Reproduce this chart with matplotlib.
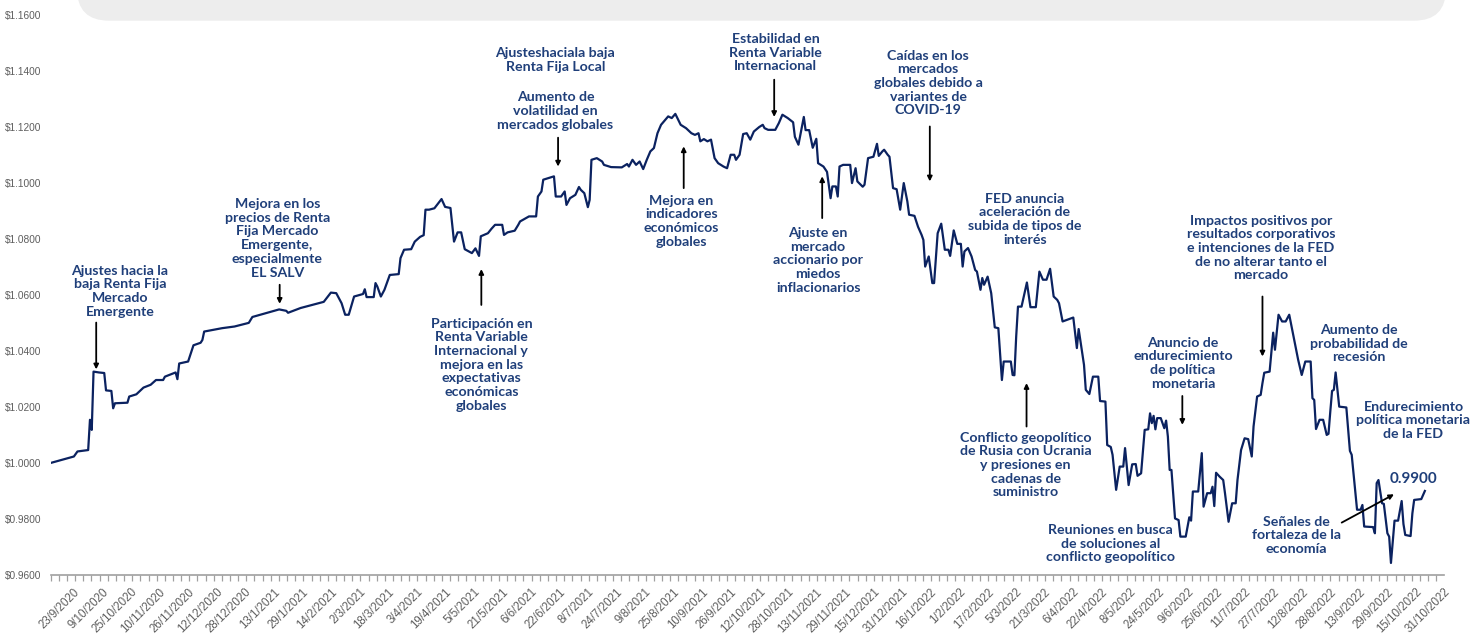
import matplotlib
matplotlib.use('Agg')
import matplotlib.pyplot as plt
import matplotlib.dates as mdates
from matplotlib.patches import FancyBboxPatch
import numpy as np
import pandas as pd

# Valor cuota: dias desde el inicio de la serie y valor
inicio = pd.Timestamp('2020-09-10')
fin_eje = pd.Timestamp('2022-10-31')

dias = [
    0, 13, 15, 21, 22, 23, 24, 27, 30, 31,
    34, 35, 36, 43, 44, 48, 52, 56, 59, 63,
    64, 70, 71, 72, 77, 80, 84, 85, 86, 96,
    103, 111, 113, 128, 132, 133, 140, 153, 157, 160,
    163, 165, 167, 170, 175, 176, 177, 181, 182, 183,
    185, 187, 190, 195, 196, 198, 202, 204, 207, 209,
    210, 212, 215, 219, 221, 224, 226, 228, 230, 232,
    236, 238, 240, 241, 245, 247, 249, 253, 254, 256,
    260, 262, 263, 268, 272, 273, 275, 276, 279, 282,
    283, 286, 288, 289, 291, 294, 296, 297, 299, 301,
    302, 303, 306, 309, 310, 314, 320, 323, 324, 326,
    328, 330, 332, 334, 336, 338, 340, 342, 346, 348,
    350, 353, 356, 359, 361, 363, 364, 366, 368, 370,
    372, 374, 377, 379, 381, 383, 384, 386, 388, 390,
    392, 394, 397, 399, 400, 402, 406, 408, 410, 413,
    416, 417, 419, 422, 423, 425, 427, 429, 430, 433,
    435, 437, 438, 440, 441, 442, 444, 448, 449, 451,
    452, 455, 456, 458, 461, 463, 464, 466, 467, 469,
    470, 472, 474, 476, 478, 480, 481, 484, 486, 488,
    489, 490, 492, 494, 495, 497, 499, 501, 503, 504,
    506, 508, 510, 511, 512, 514, 516, 518, 519, 521,
    522, 523, 525, 527, 529, 531, 533, 534, 538, 539,
    540, 541, 542, 544, 547, 549, 552, 554, 556, 558,
    560, 562, 564, 565, 567, 573, 575, 576, 579, 580,
    582, 584, 587, 588, 591, 592, 594, 595, 597, 599,
    601, 602, 604, 606, 608, 609, 611, 613, 615, 616,
    617, 618, 619, 620, 622, 624, 625, 626, 627, 628,
    630, 632, 633, 636, 638, 639, 640, 643, 645, 646,
    648, 650, 651, 652, 653, 655, 657, 658, 660, 662,
    664, 665, 667, 669, 671, 673, 674, 676, 678, 679,
    680, 683, 685, 686, 688, 690, 692, 694, 697, 699,
    701, 703, 706, 707, 708, 709, 711, 713, 715, 716,
    717, 718, 719, 720, 722, 726, 728, 729, 732, 734,
    735, 736, 741, 742, 743, 744, 746, 747, 749, 750,
    751, 753, 755, 757, 758, 759, 762, 763, 764, 768,
    770,
]

valores = [
    1.0000, 1.0023, 1.0041, 1.0046, 1.0154, 1.0118, 1.0326, 1.0323, 1.0321, 1.0259,
    1.0257, 1.0195, 1.0213, 1.0215, 1.0237, 1.0245, 1.0269, 1.0279, 1.0296, 1.0296,
    1.0308, 1.0323, 1.0299, 1.0355, 1.0362, 1.0420, 1.0429, 1.0439, 1.0469, 1.0481,
    1.0487, 1.0500, 1.0521, 1.0548, 1.0543, 1.0536, 1.0553, 1.0575, 1.0608, 1.0606,
    1.0570, 1.0529, 1.0529, 1.0594, 1.0603, 1.0620, 1.0592, 1.0592, 1.0642, 1.0630,
    1.0594, 1.0618, 1.0671, 1.0674, 1.0731, 1.0761, 1.0763, 1.0790, 1.0807, 1.0813,
    1.0904, 1.0904, 1.0909, 1.0942, 1.0914, 1.0910, 1.0790, 1.0823, 1.0823, 1.0763,
    1.0749, 1.0766, 1.0739, 1.0809, 1.0820, 1.0836, 1.0850, 1.0850, 1.0814, 1.0823,
    1.0829, 1.0850, 1.0862, 1.0880, 1.0880, 1.0951, 1.0969, 1.1011, 1.1017, 1.1023,
    1.0951, 1.0951, 1.0969, 1.0921, 1.0945, 1.0957, 1.0985, 1.0975, 1.0963, 1.0913,
    1.0939, 1.1082, 1.1088, 1.1076, 1.1064, 1.1056, 1.1055, 1.1067, 1.1058, 1.1082,
    1.1064, 1.1076, 1.1049, 1.1082, 1.1112, 1.1124, 1.1177, 1.1207, 1.1237, 1.1231,
    1.1246, 1.1207, 1.1195, 1.1177, 1.1171, 1.1177, 1.1148, 1.1156, 1.1148, 1.1154,
    1.1088, 1.1070, 1.1058, 1.1052, 1.1100, 1.1100, 1.1082, 1.1100, 1.1174, 1.1177,
    1.1154, 1.1183, 1.1199, 1.1207, 1.1195, 1.1189, 1.1189, 1.1213, 1.1243, 1.1231,
    1.1216, 1.1164, 1.1136, 1.1235, 1.1188, 1.1188, 1.1125, 1.1157, 1.1070, 1.1058,
    1.1039, 1.0945, 1.0987, 1.0987, 1.0951, 1.1058, 1.1064, 1.1064, 1.0999, 1.1052,
    1.1005, 1.0986, 1.0993, 1.1088, 1.1093, 1.1139, 1.1096, 1.1112, 1.1118, 1.1100,
    1.1093, 1.0981, 1.0977, 1.0904, 1.0999, 1.0934, 1.0886, 1.0882, 1.0843, 1.0814,
    1.0796, 1.0701, 1.0737, 1.0642, 1.0642, 1.0820, 1.0854, 1.0761, 1.0761, 1.0739,
    1.0830, 1.0782, 1.0782, 1.0701, 1.0755, 1.0767, 1.0737, 1.0689, 1.0683, 1.0618,
    1.0660, 1.0636, 1.0665, 1.0606, 1.0484, 1.0481, 1.0296, 1.0362, 1.0362, 1.0314,
    1.0313, 1.0451, 1.0558, 1.0558, 1.0644, 1.0556, 1.0556, 1.0683, 1.0654, 1.0654,
    1.0693, 1.0594, 1.0582, 1.0570, 1.0505, 1.0519, 1.0410, 1.0478, 1.0350, 1.0261,
    1.0246, 1.0308, 1.0308, 1.0221, 1.0219, 1.0064, 1.0057, 1.0029, 0.9904, 0.9987,
    0.9987, 1.0053, 0.9921, 0.9995, 0.9996, 0.9954, 0.9963, 1.0118, 1.0120, 1.0177,
    1.0142, 1.0168, 1.0120, 1.0160, 1.0160, 1.0124, 1.0151, 1.0094, 0.9975, 0.9975,
    0.9802, 0.9796, 0.9737, 0.9737, 0.9806, 0.9794, 0.9898, 0.9898, 1.0035, 0.9844,
    0.9892, 0.9892, 0.9915, 0.9846, 0.9965, 0.9951, 0.9939, 0.9892, 0.9790, 0.9856,
    0.9856, 0.9939, 1.0046, 1.0088, 1.0085, 1.0023, 1.0130, 1.0237, 1.0243, 1.0285,
    1.0322, 1.0326, 1.0465, 1.0404, 1.0529, 1.0505, 1.0505, 1.0529, 1.0433, 1.0368,
    1.0314, 1.0362, 1.0362, 1.0231, 1.0225, 1.0121, 1.0154, 1.0154, 1.0100, 1.0104,
    1.0183, 1.0257, 1.0261, 1.0323, 1.0201, 1.0198, 1.0043, 1.0029, 0.9833, 0.9833,
    0.9850, 0.9773, 0.9771, 0.9749, 0.9928, 0.9939, 0.9856, 0.9854, 0.9749, 0.9737,
    0.9643, 0.9794, 0.9794, 0.9864, 0.9782, 0.9743, 0.9739, 0.9820, 0.9868, 0.9871,
    0.9900,
]

# etiquetas de los ejes
fechas_etiqueta = pd.date_range('2020-09-23', '2022-10-31', freq='16D')
niveles_y = [0.96, 0.98, 1.00, 1.02, 1.04, 1.06, 1.08, 1.10, 1.12, 1.14, 1.16]

# comentarios: texto, (dia, valor) del texto, flecha (desde, hasta) o None
comentarios = [
    ("Ajustes hacia la\nbaja Renta Fija\nMercado\nEmergente", (38.8, 1.0613), ((25.5, 1.0501), (25.5, 1.0334))),
    ("Mejora en los\nprecios de Renta\nFija Mercado\nEmergente,\nespecialmente\nEL SALV", (127, 1.0802), ((128.3, 1.0636), (128.3, 1.0568))),
    ("Participación en\nRenta Variable\nInternacional y\nmejora en las\nexpectativas\neconómicas\nglobales", (241.3, 1.0351), ((241.3, 1.0564), (241.3, 1.0692))),
    ("Ajusteshaciala baja\nRenta Fija Local", (282.8, 1.1438), None),
    ("Aumento de\nvolatilidad en\nmercados globales", (282.8, 1.1256), ((284.3, 1.1161), (284.3, 1.1058))),
    ("Mejora en\nindicadores\neconómicos\nglobales", (353.4, 1.0863), ((354.7, 1.0981), (354.7, 1.1130))),
    ("Estabilidad en\nRenta Variable\nInternacional", (406.1, 1.1465), ((405.4, 1.1368), (405.4, 1.1235))),
    ("Ajuste en\nmercado\naccionario por\nmiedos\ninflacionarios", (430, 1.0723), ((432.3, 1.0874), (432.3, 1.1023))),
    ("Caídas en los\nmercados\nglobales debido a\nvariantes de\nCOVID-19", (491.7, 1.1356), ((492.6, 1.1201), (492.6, 1.1005))),
    ("FED anuncia\naceleración de\nsubida de tipos de\ninterés", (545.9, 1.0870), None),
    ("Conflicto geopolítico\nde Rusia con Ucrania\ny presiones en\ncadenas de\nsuministro", (546.3, 0.9993), ((546.8, 1.0130), (546.8, 1.0285))),
    ("Reuniones en busca\nde soluciones al\nconflicto geopolítico", (593.9, 0.9712), None),
    ("Anuncio de\nendurecimiento\nde política\nmonetaria", (634.4, 1.0356), ((634.1, 1.0239), (634.1, 1.0136))),
    ("Impactos positivos por\nresultados corporativos\ne intenciones de la FED\nde no alterar tanto el\nmercado", (678.1, 1.0767), ((679, 1.0594), (679, 1.0380))),
    ("Aumento de\nprobabilidad de\nrecesión", (733.1, 1.0426), None),
    ("Endurecimiento\npolítica monetaria\nde la FED", (763.6, 1.0152), None),
    ("Señales de\nfortaleza de la\neconomía", (698.2, 0.9741), ((723.4, 0.9787), (752.7, 0.9888))),
]

azul_linea = '#0b2260'
azul_texto = '#1f3f7a'
gris = '#5e5e5e'


def x_de(d):
    return mdates.date2num(inicio + pd.Timedelta(days=d))


fechas = inicio + pd.to_timedelta(dias, unit='D')

fig = plt.figure(figsize=(14.7, 6.34), dpi=100)
ax = fig.add_axes([50.7 / 1470, 1 - 575 / 634, (1444.5 - 50.7) / 1470, (575 - 14.7) / 634])

# banda gris de encabezado
banda = FancyBboxPatch((0.77, 6.133), 13.69, 0.8, boxstyle='round,pad=0,rounding_size=0.32',
                       transform=fig.dpi_scale_trans, facecolor='#ededed', edgecolor='none')
fig.add_artist(banda)

ax.plot(fechas, valores, color=azul_linea, lw=1.6, solid_joinstyle='round')

ax.set_xlim(mdates.date2num(inicio), mdates.date2num(fin_eje))
ax.set_ylim(0.96, 1.16)

ax.set_yticks(niveles_y)
ax.set_yticklabels([f'${v:.4f}' for v in niveles_y])
ax.set_xticks(mdates.date2num(fechas_etiqueta))
ax.set_xticklabels([f'{d.day}/{d.month}/{d.year}' for d in fechas_etiqueta],
                   rotation=45, ha='right', va='top', rotation_mode='anchor')
ax.set_xticks(np.linspace(mdates.date2num(inicio), mdates.date2num(fin_eje), 172), minor=True)

for lado in ['top', 'right', 'left']:
    ax.spines[lado].set_visible(False)
ax.spines['bottom'].set_color('#a0a0a0')
ax.spines['bottom'].set_linewidth(1.2)

ax.tick_params(axis='y', length=0, pad=7, labelsize=7.3, labelcolor=gris)
ax.tick_params(axis='x', which='major', length=0, pad=8, labelsize=8.3, labelcolor=gris)
ax.tick_params(axis='x', which='minor', length=4, width=0.9, color='#a0a0a0')
for t in ax.get_yticklabels() + ax.get_xticklabels():
    t.set_family('Liberation Sans')

for texto, (d, v), flecha in comentarios:
    ax.text(x_de(d), v, texto, ha='center', va='center', fontsize=10.2, fontweight='bold',
            color=azul_texto, family='Lato', linespacing=1.17)
    if flecha is not None:
        (d0, v0), (d1, v1) = flecha
        ax.annotate('', xy=(x_de(d1), v1), xytext=(x_de(d0), v0),
                    arrowprops=dict(arrowstyle='-|>', color='black', lw=1.3,
                                    mutation_scale=7, shrinkA=0, shrinkB=0))

ax.text(x_de(dias[-1] - 6.4), valores[-1] + 0.0043, f'{valores[-1]:.4f}', ha='center', va='center',
        fontsize=11, fontweight='bold', color=azul_texto, family='Lato')

fig.savefig('out.png', dpi=100)
